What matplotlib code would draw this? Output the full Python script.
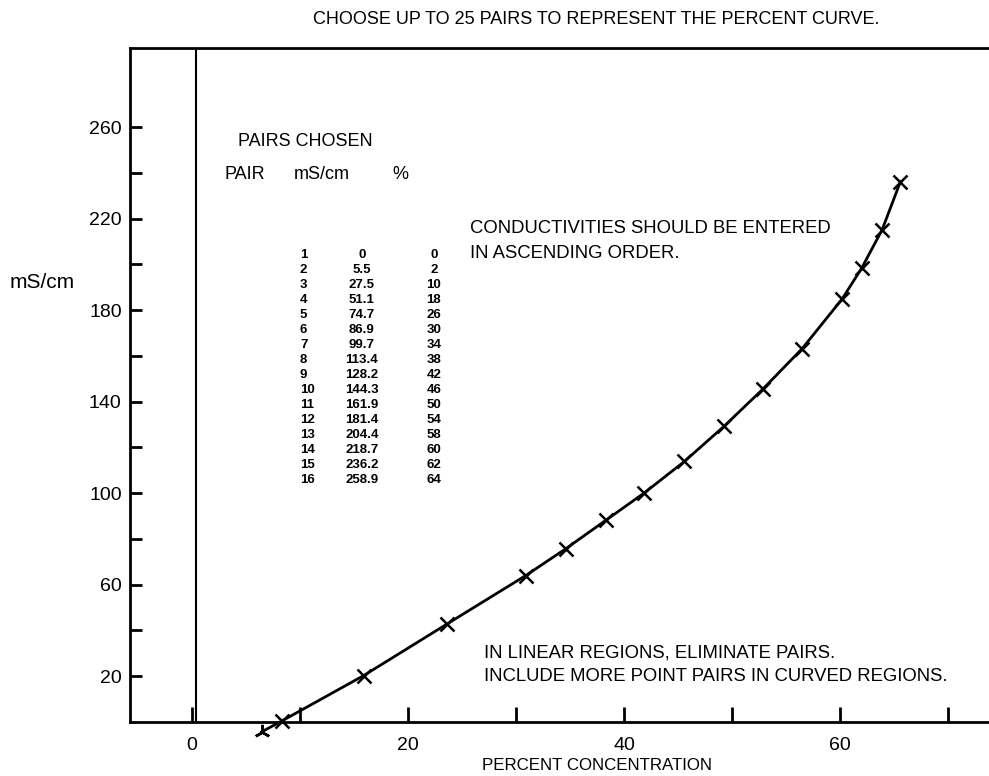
import numpy as np
import matplotlib.pyplot as plt

plt.rcParams['font.family'] = ['Liberation Sans', 'DejaVu Sans']

# curve
pct = [6.45, 8.3, 15.9, 23.6, 30.9, 34.6, 38.3, 41.9, 45.6, 49.3, 52.9, 56.5, 60.2, 62.0, 63.9, 65.6]
cond = [-4.3, 0.4, 20.3, 42.8, 64.0, 75.7, 88.1, 100.2, 113.9, 129.4, 145.7, 163.2, 184.9, 198.3, 215.1, 236.2]

# table of chosen pairs
pair_no = list(range(1, 17))
pair_ms = ['0', '5.5', '27.5', '51.1', '74.7', '86.9', '99.7', '113.4', '128.2',
           '144.3', '161.9', '181.4', '204.4', '218.7', '236.2', '258.9']
pair_pct = ['0', '2', '10', '18', '26', '30', '34', '38', '42', '46', '50', '54', '58', '60', '62', '64']

xticks = list(range(0, 80, 10))
xlabels = ['0', '', '20', '', '40', '', '60', '']
yticks = list(range(20, 280, 20))
ylabels = [str(v) if (v - 20) % 40 == 0 else '' for v in yticks]

fig = plt.figure(figsize=(9.89, 7.76), dpi=100)
ax = fig.add_axes([130/989, 54/776, 859/989, 674/776])
ax.set_xlim(-5.74, 73.8)
ax.set_ylim(0, 294.6)

for s in ['left', 'top', 'bottom']:
    ax.spines[s].set_linewidth(2)
ax.spines['right'].set_visible(False)

ax.set_xticks(xticks)
ax.set_xticklabels(xlabels, fontsize=14)
ax.set_yticks(yticks)
ax.set_yticklabels(ylabels, fontsize=14)
ax.tick_params(axis='x', direction='in', length=11, width=2, pad=11)
ax.tick_params(axis='y', direction='in', length=8.5, width=2, pad=6)

ax.axvline(0.37, color='black', lw=1.5)

ax.plot(pct, cond, color='black', lw=2, clip_on=False)
ax.plot(pct[1:], cond[1:], ls='none', marker='x', ms=10, mew=1.8, color='black', clip_on=False)
ax.plot(pct[:1], cond[:1], ls='none', marker=(3, 2, 0), ms=11, mew=1.8, color='black', clip_on=False)

# table
ax.text(10.46, 253.6, 'PAIRS CHOSEN', fontsize=13, ha='center', va='center')
ax.text(4.9, 239.1, 'PAIR', fontsize=13, ha='center', va='center')
ax.text(12.04, 239.1, 'mS/cm', fontsize=13, ha='center', va='center')
ax.text(19.26, 239.1, '%', fontsize=13, ha='center', va='center')
tf = dict(fontsize=9.5, fontweight='bold', va='center')
for i in range(len(pair_no)):
    y = 204.2 - i * 6.56
    ax.text(10.0, y, str(pair_no[i]), ha='left', **tf)
    ax.text(15.74, y, pair_ms[i], ha='center', **tf)
    ax.text(22.4, y, pair_pct[i], ha='center', **tf)

ax.text(25.74, 215.5, 'CONDUCTIVITIES SHOULD BE ENTERED', fontsize=13.3, va='center')
ax.text(25.74, 204.6, 'IN ASCENDING ORDER.', fontsize=13.3, va='center')
ax.text(27.07, 30.3, 'IN LINEAR REGIONS, ELIMINATE PAIRS.', fontsize=13.3, va='center')
ax.text(27.07, 20.1, 'INCLUDE MORE POINT PAIRS IN CURVED REGIONS.', fontsize=13.3, va='center')

fig.text(596/989, 1 - 20/776, 'CHOOSE UP TO 25 PAIRS TO REPRESENT THE PERCENT CURVE.',
         fontsize=13, ha='center', va='center')
fig.text(42/989, 1 - 283/776, 'mS/cm', fontsize=15, ha='center', va='center')
fig.text(597/989, 1 - 765/776, 'PERCENT CONCENTRATION', fontsize=12.2, ha='center', va='center')

fig.savefig('out.png', dpi=100)
